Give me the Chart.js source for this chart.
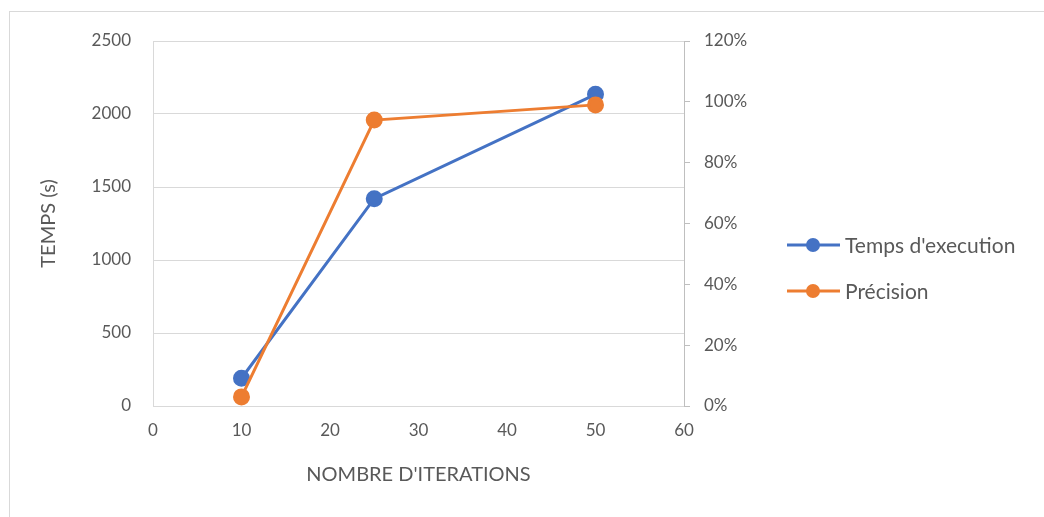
<!DOCTYPE html>
<html lang="fr">
<head>
  <meta charset="UTF-8">
  <title>Temps d'execution et précision</title>
  <script src="https://cdn.jsdelivr.net/npm/chart.js@4.4.1/dist/chart.umd.min.js"></script>
  <style>
    html, body { margin: 0; padding: 0; background: #fff; overflow: hidden; }
    #wrap { position: relative; width: 1044px; height: 517px; }
    #frame { position: absolute; left: 9px; top: 11px; width: 1100px; height: 600px; border: 1px solid #d9d9d9; box-sizing: border-box; }
    canvas { position: absolute; left: 0; top: 0; }
  </style>
</head>
<body>
  <div id="wrap">
    <div id="frame"></div>
    <canvas id="chart" width="1044" height="517"></canvas>
  </div>

  <script>
    // Data
    const iterations = [10, 25, 50];
    const tempsExecution = [190, 1420, 2135];   // seconds, left axis
    const precision = [3, 94, 99];              // percent, right axis
    const seriesNames = ["Temps d'execution", "Précision"];
    const seriesColors = ['#4472c4', '#ed7d31'];

    const FONT = 'Lato, "Open Sans", sans-serif';
    const TXT = '#595959';

    // Excel-like legend: line with a marker, to the right of the plot
    const sideLegend = {
      id: 'sideLegend',
      afterDraw(chart) {
        const ctx = chart.ctx;
        const rows = [245, 291];
        ctx.save();
        chart.data.datasets.forEach((ds, i) => {
          const y = rows[i];
          ctx.strokeStyle = ds.borderColor;
          ctx.lineWidth = 3;
          ctx.beginPath();
          ctx.moveTo(787, y);
          ctx.lineTo(840, y);
          ctx.stroke();
          ctx.fillStyle = ds.borderColor;
          ctx.beginPath();
          ctx.arc(813, y, 7, 0, Math.PI * 2);
          ctx.fill();
          ctx.fillStyle = TXT;
          ctx.font = '21px ' + FONT;
          ctx.textBaseline = 'middle';
          ctx.textAlign = 'left';
          ctx.fillText(ds.label, 845, y + 1);
        });
        ctx.restore();
      }
    };

    const ctx = document.getElementById('chart').getContext('2d');
    new Chart(ctx, {
      type: 'line',
      data: {
        datasets: [
          {
            label: seriesNames[0],
            data: iterations.map((x, i) => ({ x: x, y: tempsExecution[i] })),
            borderColor: seriesColors[0],
            backgroundColor: seriesColors[0],
            borderWidth: 3,
            pointRadius: 7,
            pointHoverRadius: 7,
            yAxisID: 'y',
            order: 1
          },
          {
            label: seriesNames[1],
            data: iterations.map((x, i) => ({ x: x, y: precision[i] })),
            borderColor: seriesColors[1],
            backgroundColor: seriesColors[1],
            borderWidth: 3,
            pointRadius: 7,
            pointHoverRadius: 7,
            yAxisID: 'y1',
            order: 0
          }
        ]
      },
      options: {
        responsive: false,
        animation: false,
        layout: { padding: { left: 33, right: 290, top: 41, bottom: 26 } },
        plugins: {
          legend: { display: false },
          tooltip: { enabled: false }
        },
        scales: {
          x: {
            type: 'linear',
            min: 0,
            max: 60,
            ticks: { stepSize: 10, color: TXT, font: { family: FONT, size: 17 }, padding: 14 },
            grid: { display: false, drawTicks: false },
            border: { display: true, color: '#d9d9d9', width: 1 },
            title: {
              display: true,
              text: "NOMBRE D'ITERATIONS",
              color: TXT,
              font: { family: FONT, size: 20 },
              padding: { top: 19 }
            },
            afterFit(scale) { scale.height = 85; }
          },
          y: {
            position: 'left',
            min: 0,
            max: 2500,
            ticks: {
              stepSize: 500,
              color: TXT,
              font: { family: FONT, size: 17 },
              padding: 22,
              callback: v => String(v)
            },
            grid: { color: '#d9d9d9', drawTicks: false },
            border: { display: true, color: '#d9d9d9' },
            title: {
              display: true,
              text: 'TEMPS (s)',
              color: TXT,
              font: { family: FONT, size: 20 },
              padding: { bottom: 0 }
            },
            afterFit(scale) { scale.width = 120; }
          },
          y1: {
            position: 'right',
            min: 0,
            max: 120,
            ticks: {
              stepSize: 20,
              color: TXT,
              font: { family: FONT, size: 17 },
              padding: 14,
              callback: v => v + '%'
            },
            grid: { drawOnChartArea: false, color: '#bfbfbf', tickLength: 6 },
            border: { display: true, color: '#bfbfbf' },
            afterFit(scale) { scale.width = 70; }
          }
        }
      },
      plugins: [sideLegend]
    });
  </script>
</body>
</html>
